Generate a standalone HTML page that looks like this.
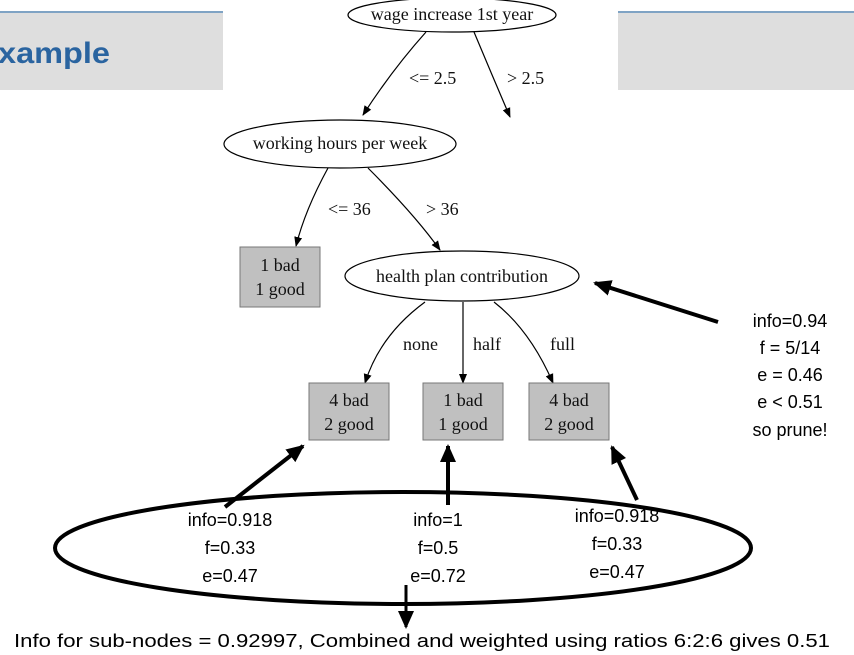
<!DOCTYPE html>
<html><head><meta charset="utf-8"><style>
html,body{margin:0;padding:0;background:#fff;}
svg{display:block;}
.s{font-family:"Liberation Serif",serif;font-size:18px;fill:#111;}
.c{font-family:"Liberation Sans",sans-serif;font-size:18px;fill:#000;}
</style></head><body>
<svg width="854" height="655" viewBox="0 0 854 655" xmlns="http://www.w3.org/2000/svg">
<defs>
<marker id="a" markerWidth="10" markerHeight="10" refX="9" refY="5" orient="auto" markerUnits="userSpaceOnUse"><path d="M0,1 L10,5 L0,9 Z" fill="#000"/></marker>
<marker id="b" markerWidth="18" markerHeight="16" refX="16" refY="8" orient="auto" markerUnits="userSpaceOnUse"><path d="M0,0 L18,8 L0,16 Z" fill="#000"/></marker>
</defs>
<rect x="0" y="12" width="223" height="78" fill="#dedede"/>
<rect x="0" y="11" width="223" height="2" fill="#7fa3c4"/>
<rect x="618" y="12" width="236" height="78" fill="#dedede"/>
<rect x="618" y="11" width="236" height="2" fill="#7fa3c4"/>
<text x="-2" y="63" font-family="Liberation Sans,sans-serif" font-weight="bold" font-size="30" fill="#2a64a0" textLength="112" lengthAdjust="spacingAndGlyphs">xample</text>

<ellipse cx="452" cy="15" rx="104" ry="17" fill="#fff" stroke="#000" stroke-width="1.2"/>
<text class="s" x="452" y="20" text-anchor="middle">wage increase 1st year</text>
<path d="M426,32 Q392,70 363,115" fill="none" stroke="#000" stroke-width="1.2" marker-end="url(#a)"/>
<path d="M474,32 Q492,75 510,117" fill="none" stroke="#000" stroke-width="1.2" marker-end="url(#a)"/>
<text class="s" x="409" y="84">&lt;= 2.5</text>
<text class="s" x="507" y="84">&gt; 2.5</text>

<ellipse cx="340" cy="144" rx="116" ry="24" fill="#fff" stroke="#000" stroke-width="1.2"/>
<text class="s" x="340" y="149" text-anchor="middle">working hours per week</text>
<path d="M328,168 Q305,210 296,246" fill="none" stroke="#000" stroke-width="1.2" marker-end="url(#a)"/>
<path d="M368,168 Q415,215 440,250" fill="none" stroke="#000" stroke-width="1.2" marker-end="url(#a)"/>
<text class="s" x="328" y="215">&lt;= 36</text>
<text class="s" x="426" y="215">&gt; 36</text>

<rect x="240" y="247" width="80" height="60" fill="#c0c0c0" stroke="#777" stroke-width="1"/>
<text class="s" x="280" y="271" text-anchor="middle">1 bad</text>
<text class="s" x="280" y="295" text-anchor="middle">1 good</text>

<ellipse cx="462" cy="276" rx="117" ry="25" fill="#fff" stroke="#000" stroke-width="1.2"/>
<text class="s" x="462" y="282" text-anchor="middle">health plan contribution</text>
<path d="M425,302 Q380,335 365,383" fill="none" stroke="#000" stroke-width="1.2" marker-end="url(#a)"/>
<path d="M463,302 L463,383" fill="none" stroke="#000" stroke-width="1.2" marker-end="url(#a)"/>
<path d="M494,302 Q530,330 553,383" fill="none" stroke="#000" stroke-width="1.2" marker-end="url(#a)"/>
<text class="s" x="403" y="350">none</text>
<text class="s" x="473" y="350">half</text>
<text class="s" x="550" y="350">full</text>

<rect x="309" y="383" width="80" height="57" fill="#c0c0c0" stroke="#777"/>
<text class="s" x="349" y="406" text-anchor="middle">4 bad</text>
<text class="s" x="349" y="430" text-anchor="middle">2 good</text>
<rect x="423" y="383" width="80" height="57" fill="#c0c0c0" stroke="#777"/>
<text class="s" x="463" y="406" text-anchor="middle">1 bad</text>
<text class="s" x="463" y="430" text-anchor="middle">1 good</text>
<rect x="529" y="383" width="80" height="57" fill="#c0c0c0" stroke="#777"/>
<text class="s" x="569" y="406" text-anchor="middle">4 bad</text>
<text class="s" x="569" y="430" text-anchor="middle">2 good</text>

<line x1="718" y1="322" x2="595" y2="283" stroke="#000" stroke-width="4" marker-end="url(#b)"/>
<text class="c" x="790" y="327" text-anchor="middle">info=0.94</text>
<text class="c" x="790" y="354" text-anchor="middle">f = 5/14</text>
<text class="c" x="790" y="381" text-anchor="middle">e = 0.46</text>
<text class="c" x="790" y="408" text-anchor="middle">e &lt; 0.51</text>
<text class="c" x="790" y="436" text-anchor="middle">so prune!</text>

<ellipse cx="403" cy="548" rx="348" ry="56" fill="none" stroke="#000" stroke-width="4"/>
<line x1="225" y1="507" x2="303" y2="446" stroke="#000" stroke-width="4" marker-end="url(#b)"/>
<line x1="448" y1="505" x2="448" y2="446" stroke="#000" stroke-width="4" marker-end="url(#b)"/>
<line x1="637" y1="500" x2="612" y2="447" stroke="#000" stroke-width="4" marker-end="url(#b)"/>
<line x1="406" y1="585" x2="406" y2="627" stroke="#000" stroke-width="3" marker-end="url(#b)"/>

<text class="c" x="230" y="526" text-anchor="middle">info=0.918</text>
<text class="c" x="230" y="554" text-anchor="middle">f=0.33</text>
<text class="c" x="230" y="582" text-anchor="middle">e=0.47</text>
<text class="c" x="438" y="526" text-anchor="middle">info=1</text>
<text class="c" x="438" y="554" text-anchor="middle">f=0.5</text>
<text class="c" x="438" y="582" text-anchor="middle">e=0.72</text>
<text class="c" x="617" y="522" text-anchor="middle">info=0.918</text>
<text class="c" x="617" y="550" text-anchor="middle">f=0.33</text>
<text class="c" x="617" y="578" text-anchor="middle">e=0.47</text>

<text class="c" x="14" y="647" textLength="816" lengthAdjust="spacingAndGlyphs">Info for sub-nodes = 0.92997, Combined and weighted using ratios 6:2:6 gives 0.51</text>
</svg>
</body></html>
